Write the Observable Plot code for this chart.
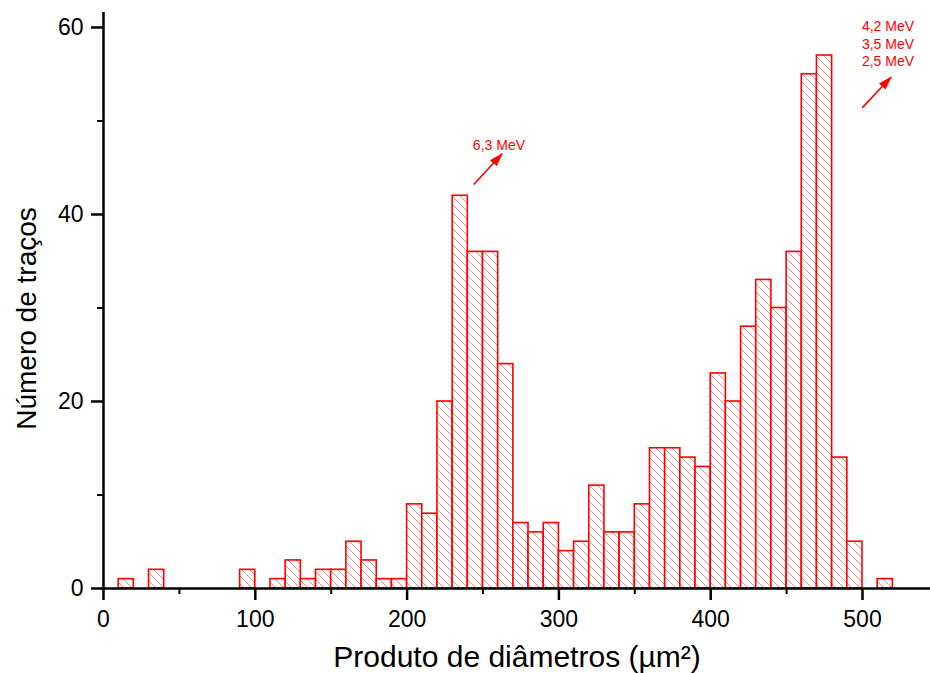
<!DOCTYPE html>
<html>
<head>
<meta charset="utf-8">
<script src="https://cdn.jsdelivr.net/npm/d3@7"></script>
<script src="https://cdn.jsdelivr.net/npm/@observablehq/plot@0.6"></script>
<style>
  html, body { margin: 0; padding: 0; background: #ffffff; }
  svg { display: block; }
</style>
</head>
<body>
<div id="chart"></div>
<script>
// ---- data ----
const binStart = [10,30,90,110,120,130,140,150,160,170,180,190,200,210,220,230,240,250,260,270,280,290,300,310,320,330,340,350,360,370,380,390,400,410,420,430,440,450,460,470,480,490,510];
const counts   = [1,2,2,1,3,1,2,2,5,3,1,1,9,8,20,42,36,36,24,7,6,7,4,5,11,6,6,9,15,15,14,13,23,20,28,33,30,36,55,57,14,5,1];
const binWidth = 10;

const xMajorTicks = [0,100,200,300,400,500];
const xMinorTicks = [50,150,250,350,450];
const yMajorTicks = [0,20,40,60];
const yMinorTicks = [10,30,50];

const xTitle = "Produto de diâmetros (\u00B5m²)";
const yTitle = "Número de traços";

// annotations (data coordinates)
const annoLabels = ["6,3 MeV", "4,2 MeV\n3,5 MeV\n2,5 MeV"];
const annoX      = [260.5, 516.8];
const annoY      = [47.5, 58.3];
const arrowX1    = [243.9, 499.8];
const arrowY1    = [43.2, 51.4];
const arrowX2    = [262.6, 518.9];
const arrowY2    = [46.5, 54.7];

// ---- tables ----
const bins = binStart.map((s, i) => ({x1: s, x2: s + binWidth, y: counts[i]}));
const annos = annoLabels.map((t, i) => ({text: t, x: annoX[i], y: annoY[i]}));
const arrows = arrowX1.map((_, i) => ({x1: arrowX1[i], y1: arrowY1[i], x2: arrowX2[i], y2: arrowY2[i]}));

const RED = "#ff0000";
const FONT = "'Liberation Sans', Arial, Helvetica, sans-serif";

const chart = Plot.plot({
  width: 930,
  height: 673,
  marginLeft: 103,
  marginRight: 0,
  marginTop: 12,
  marginBottom: 85,
  style: {fontFamily: FONT, background: "#ffffff", color: "#000000"},
  x: {domain: [0, 544.8]},
  y: {domain: [0, 61.6]},
  marks: [
    Plot.rectY(bins, {x1: "x1", x2: "x2", y: "y", fill: "url(#hatch)", stroke: RED, strokeWidth: 1.6}),
    Plot.ruleY([0], {stroke: "#000", strokeWidth: 2.5}),
    Plot.ruleX([0], {stroke: "#000", strokeWidth: 2.5}),
    Plot.axisX(xMajorTicks, {tickSize: 12, tickPadding: 10, fontSize: 23, strokeWidth: 2.5, label: null, tickFormat: d => String(d)}),
    Plot.axisX(xMinorTicks, {tickSize: 6, strokeWidth: 2, label: null, tickFormat: () => ""}),
    Plot.axisY(yMajorTicks, {tickSize: 12, tickPadding: 8, fontSize: 23, strokeWidth: 2.5, label: null, tickFormat: d => String(d)}),
    Plot.axisY(yMinorTicks, {tickSize: 6, strokeWidth: 2, label: null, tickFormat: () => ""}),
    Plot.text([xTitle], {frameAnchor: "bottom", dy: 69, fontSize: 30, fill: "#000", textAnchor: "middle", lineAnchor: "middle"}),
    Plot.text([yTitle], {frameAnchor: "left", dx: -76, dy: 18, rotate: -90, fontSize: 28, fill: "#000", textAnchor: "middle", lineAnchor: "middle"}),
    Plot.link(arrows, {x1: "x1", y1: "y1", x2: "x2", y2: "y2", stroke: RED, strokeWidth: 1.6}),
    Plot.text(annos, {x: "x", y: "y", text: "text", fill: RED, fontSize: 14, lineHeight: 1.25, lineAnchor: "middle"})
  ]
});

// pattern + arrowhead definitions
const svg = d3.select(chart);
const defs = svg.insert("defs", ":first-child");
const pat = defs.append("pattern")
  .attr("id", "hatch")
  .attr("patternUnits", "userSpaceOnUse")
  .attr("width", 8).attr("height", 8);
pat.append("rect").attr("width", 8).attr("height", 8).attr("fill", "#ffffff");
pat.append("path")
  .attr("d", "M-2,6 L2,10 M0,0 L8,8 M6,-2 L10,2")
  .attr("stroke", "#ff7a7a").attr("stroke-width", 0.9).attr("fill", "none");
const mk = defs.append("marker")
  .attr("id", "arrowhead")
  .attr("viewBox", "0 0 14 9")
  .attr("refX", 13).attr("refY", 4.5)
  .attr("markerWidth", 14).attr("markerHeight", 9)
  .attr("markerUnits", "userSpaceOnUse")
  .attr("orient", "auto");
mk.append("path").attr("d", "M0,0 L14,4.5 L0,9 Z").attr("fill", RED);
svg.selectAll('g[aria-label="link"] path').attr("marker-end", "url(#arrowhead)");

document.getElementById("chart").appendChild(chart);
</script>
</body>
</html>
